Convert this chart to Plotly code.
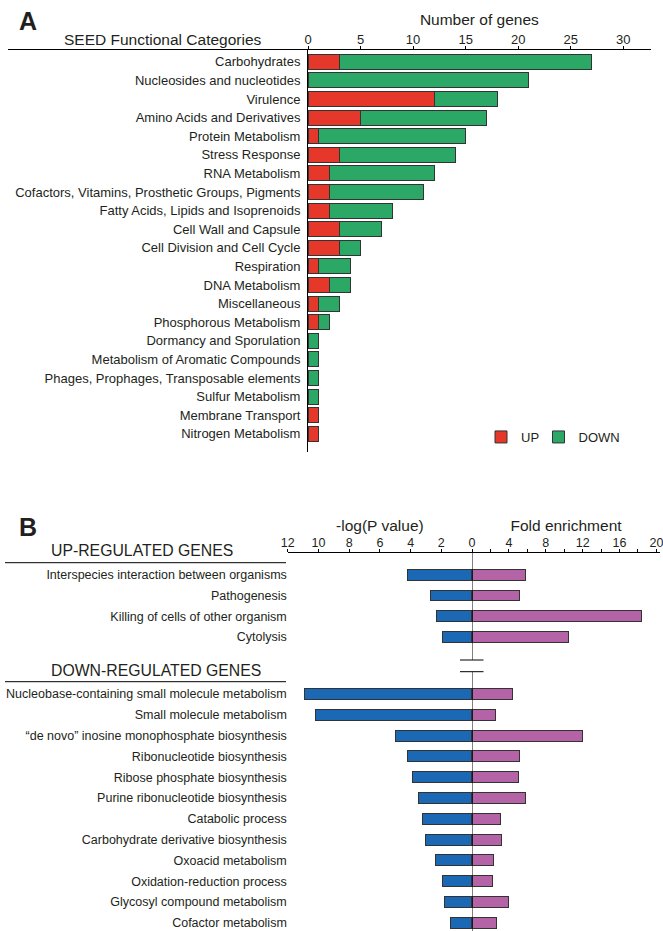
import plotly.graph_objects as go

W, H = 663, 931
FONT = "Liberation Sans, Arial, sans-serif"

# ---------------- Panel A data ----------------
seed_categories = [
    "Carbohydrates", "Nucleosides and nucleotides", "Virulence",
    "Amino Acids and Derivatives", "Protein Metabolism", "Stress Response",
    "RNA Metabolism", "Cofactors, Vitamins, Prosthetic Groups, Pigments",
    "Fatty Acids, Lipids and Isoprenoids", "Cell Wall and Capsule",
    "Cell Division and Cell Cycle", "Respiration", "DNA Metabolism",
    "Miscellaneous", "Phosphorous Metabolism", "Dormancy and Sporulation",
    "Metabolism of Aromatic Compounds", "Phages, Prophages, Transposable elements",
    "Sulfur Metabolism", "Membrane Transport", "Nitrogen Metabolism",
]
genes_up = [3, 0, 12, 5, 1, 3, 2, 2, 2, 3, 3, 1, 2, 1, 1, 0, 0, 0, 0, 1, 1]
genes_down = [24, 21, 6, 12, 14, 11, 10, 9, 6, 4, 2, 3, 2, 2, 1, 1, 1, 1, 1, 0, 0]
genes_ticks = [0, 5, 10, 15, 20, 25, 30]

# ---------------- Panel B data ----------------
up_terms = [
    "Interspecies interaction between organisms", "Pathogenesis",
    "Killing of cells of other organism", "Cytolysis",
]
up_logp = [4.2, 2.7, 2.3, 1.9]
up_fold = [5.8, 5.2, 18.4, 10.5]

down_terms = [
    "Nucleobase-containing small molecule metabolism", "Small molecule metabolism",
    "\u201cde novo\u201d inosine monophosphate biosynthesis", "Ribonucleotide biosynthesis",
    "Ribose phosphate biosynthesis", "Purine ribonucleotide biosynthesis",
    "Catabolic process", "Carbohydrate derivative biosynthesis", "Oxoacid metabolism",
    "Oxidation-reduction process", "Glycosyl compound metabolism", "Cofactor metabolism",
]
down_logp = [10.9, 10.2, 5.0, 4.2, 3.9, 3.5, 3.2, 3.0, 2.4, 1.9, 1.8, 1.4]
down_fold = [4.4, 2.5, 12.0, 5.2, 5.0, 5.8, 3.1, 3.2, 2.3, 2.2, 4.0, 2.7]
logp_ticks = [0, 2, 4, 6, 8, 10, 12]
fold_ticks = [4, 8, 12, 16, 20]

# ---------------- helpers ----------------
def px(x):
    return x / W

def py(y):
    return 1 - y / H

RED, GREEN = "#E5372A", "#2BA866"
BLUE, PINK = "#1B69B5", "#B463A6"
OUTLINE = dict(color="#333333", width=1)

fig = go.Figure()

# Panel A stacked bars
ya = list(range(len(seed_categories)))
fig.add_trace(go.Bar(
    y=ya, x=[v if v else None for v in genes_up], orientation="h", name="UP",
    marker=dict(color=RED, line=OUTLINE), width=0.81, xaxis="x", yaxis="y",
    legend="legend",
))
fig.add_trace(go.Bar(
    y=ya, x=[v if v else None for v in genes_down], orientation="h", name="DOWN",
    marker=dict(color=GREEN, line=OUTLINE), width=0.81, xaxis="x", yaxis="y",
    legend="legend2",
))

# Panel B bars
GAP_ROWS = 5.735
yb = list(range(len(up_terms))) + [GAP_ROWS + j for j in range(len(down_terms))]
terms_b = up_terms + down_terms
fig.add_trace(go.Bar(
    y=yb, x=up_logp + down_logp, orientation="h", showlegend=False,
    marker=dict(color=BLUE, line=OUTLINE), width=0.52, xaxis="x2", yaxis="y2",
))
fig.add_trace(go.Bar(
    y=yb, x=up_fold + down_fold, orientation="h", showlegend=False,
    marker=dict(color=PINK, line=OUTLINE), width=0.52, xaxis="x3", yaxis="y3",
))

axis_common = dict(showgrid=False, zeroline=False, showline=True,
                   linecolor="black", linewidth=1, ticks="outside",
                   tickcolor="black", ticklen=3, tickwidth=1, automargin=False,
                   ticklabeloverflow="allow")

# Panel A axes
a_x0, a_x1 = 308, 650.7
a_unit = 10.51
a_top, a_bot = 49.5, 452
a_c0, a_step = 61.8, 18.6
fig.update_layout(
    xaxis=dict(domain=[px(a_x0), px(a_x1)], range=[0, (a_x1 - a_x0) / a_unit],
               side="top", anchor="y", tickvals=genes_ticks,
               tickfont=dict(size=13), ticklabelstandoff=-4,
               title=dict(text="Number of genes", font=dict(size=15.5), standoff=2),
               **axis_common),
    yaxis=dict(domain=[py(a_bot), py(a_top)],
               range=[(a_bot - a_c0) / a_step, -(a_c0 - a_top) / a_step],
               anchor="x", tickvals=ya, ticktext=seed_categories,
               tickfont=dict(size=13), showgrid=False, zeroline=False,
               showline=True, linecolor="black", linewidth=1, ticks="",
               ticklabelstandoff=4, automargin=False),
)

# Panel B axes
b_x0, b_mid, b_x1 = 287.8, 472, 660
b_top, b_bot = 553, 931
b_c0, b_step = 574.7, 20.8
right_unit = 9.22
yb_range = [(b_bot - b_c0) / b_step, -(b_c0 - b_top) / b_step]
fig.update_layout(
    xaxis2=dict(domain=[px(b_x0), px(b_mid)], range=[12, 0], side="top",
                anchor="y2", tickvals=logp_ticks, tickfont=dict(size=12.5),
                ticklabelstandoff=-3,
                title=dict(text="-log(P value)", font=dict(size=15.5), standoff=0),
                **axis_common),
    xaxis3=dict(domain=[px(b_mid), px(b_x1)], range=[0, (b_x1 - b_mid) / right_unit],
                side="top", anchor="y3", tickvals=[0] + fold_ticks,
                ticktext=[""] + [str(t) for t in fold_ticks], tickfont=dict(size=12.5),
                ticklabelstandoff=-3,
                minor=dict(dtick=2, ticks="outside", ticklen=3, tickcolor="black"),
                title=dict(text="Fold enrichment", font=dict(size=15.5), standoff=0),
                **axis_common),
    yaxis2=dict(domain=[py(b_bot), py(b_top)], range=yb_range, anchor="x2",
                tickvals=yb, ticktext=terms_b, tickfont=dict(size=12.5),
                showgrid=False, zeroline=False, showline=False, ticks="",
                automargin=False),
    yaxis3=dict(domain=[py(b_bot), py(b_top)], range=yb_range, anchor="x3",
                showticklabels=False, showgrid=False, zeroline=False,
                showline=False, ticks="", matches="y2", automargin=False),
)

# Lines (header rules, axis break)
line = dict(color="black", width=1)
shapes = [
    dict(type="line", xref="paper", yref="paper", x0=px(8), x1=px(a_x0),
         y0=py(a_top), y1=py(a_top), line=line),
    dict(type="line", xref="paper", yref="paper", x0=px(5), x1=px(286),
         y0=py(562.7), y1=py(562.7), line=line),
    dict(type="line", xref="paper", yref="paper", x0=px(5), x1=px(286),
         y0=py(681.7), y1=py(681.7), line=line),
    dict(type="line", xref="x3", yref="paper", x0=0, x1=0,
         y0=py(b_top), y1=py(660), line=line),
    dict(type="line", xref="x3", yref="paper", x0=0, x1=0,
         y0=py(671.7), y1=py(b_bot), line=line),
    dict(type="line", xref="paper", yref="paper", x0=px(460), x1=px(483.5),
         y0=py(660), y1=py(660), line=line),
    dict(type="line", xref="paper", yref="paper", x0=px(460), x1=px(483.5),
         y0=py(671.7), y1=py(671.7), line=line),
]

annotations = [
    dict(text="<b>A</b>", x=px(17), y=py(21), xanchor="left", yanchor="middle",
         font=dict(size=25)),
    dict(text="<b>B</b>", x=px(17), y=py(527), xanchor="left", yanchor="middle",
         font=dict(size=25)),
    dict(text="SEED Functional Categories", x=px(163), y=py(39),
         xanchor="center", yanchor="middle", font=dict(size=15.5)),
    dict(text="UP-REGULATED GENES", x=px(142), y=py(550),
         xanchor="center", yanchor="middle", font=dict(size=15.8)),
    dict(text="DOWN-REGULATED GENES", x=px(156), y=py(670),
         xanchor="center", yanchor="middle", font=dict(size=15.8)),
]
for a in annotations:
    a.update(xref="paper", yref="paper", showarrow=False)

legend_style = dict(orientation="h", xanchor="left", yanchor="middle",
                    font=dict(size=13), bgcolor="rgba(0,0,0,0)")

fig.update_layout(
    width=W, height=H,
    margin=dict(l=0, r=0, t=0, b=0, pad=0, autoexpand=False),
    paper_bgcolor="white", plot_bgcolor="white",
    font=dict(family=FONT, color="#231F20", size=13),
    barmode="stack", bargap=0.19,
    shapes=shapes, annotations=annotations,
    legend=dict(x=px(481), y=py(437), **legend_style),
    legend2=dict(x=px(538.5), y=py(437), **legend_style),
)

fig.write_html(
    "out.html",
    config={"displayModeBar": False},
    post_script="document.body.style.margin='0';document.body.style.overflow='hidden';",
)
